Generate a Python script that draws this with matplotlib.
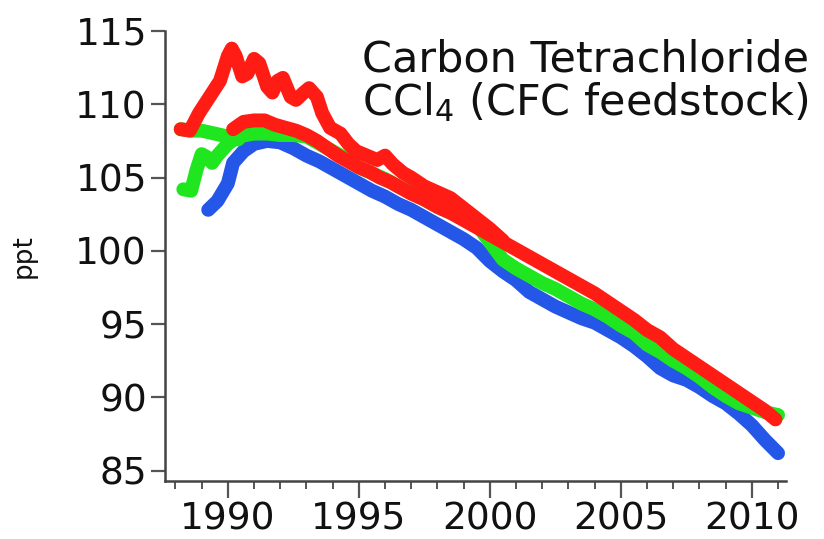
import numpy as np
import matplotlib
matplotlib.use("Agg")
import matplotlib.pyplot as plt
from matplotlib.ticker import MultipleLocator

# upper red record (early high values, runs along the top of the red band)
red_hi_yr = [1988.2, 1988.55, 1988.9, 1989.3, 1989.7, 1990.0, 1990.15, 1990.3, 1990.55, 1990.75,
             1991.0, 1991.2, 1991.5, 1991.7, 1991.9, 1992.1, 1992.4, 1992.6, 1992.9, 1993.1,
             1993.4, 1993.6, 1993.9, 1994.3, 1994.6, 1994.9, 1995.3, 1995.7, 1996.0, 1996.3,
             1996.7, 1997.0, 1997.5, 1998.0, 1998.5, 1999.0, 1999.5, 2000.0, 2000.5]
red_hi_val = [108.3, 108.2, 109.4, 110.5, 111.6, 113.3, 113.8, 113.3, 111.9, 112.1,
              113.1, 112.8, 111.2, 110.8, 111.6, 111.8, 110.5, 110.3, 110.8, 111.1,
              110.5, 109.4, 108.4, 108.0, 107.3, 106.8, 106.5, 106.2, 106.5, 105.9,
              105.3, 105.0, 104.4, 104.0, 103.6, 102.9, 102.2, 101.5, 100.7]

# main red record
red_yr = [1990.2, 1990.6, 1991.0, 1991.4, 1991.8, 1992.2, 1992.6, 1993.0, 1993.4, 1993.8,
          1994.2, 1994.6, 1995.0, 1995.4, 1995.8, 1996.2, 1996.6, 1997.0, 1997.5, 1998.0,
          1998.5, 1999.0, 1999.5, 2000.0, 2000.5, 2001.0, 2001.5, 2002.0, 2002.5, 2003.0,
          2003.5, 2004.0, 2004.5, 2005.0, 2005.5, 2006.0, 2006.5, 2007.0, 2007.5, 2008.0,
          2008.5, 2009.0, 2009.5, 2010.0, 2010.5, 2010.9]
red_val = [108.3, 108.8, 108.9, 108.9, 108.6, 108.4, 108.2, 107.9, 107.5, 107.0,
           106.5, 106.1, 105.7, 105.4, 105.0, 104.7, 104.3, 103.9, 103.5, 103.0,
           102.6, 102.1, 101.6, 101.1, 100.6, 100.1, 99.6, 99.1, 98.6, 98.1,
           97.6, 97.1, 96.5, 95.9, 95.3, 94.6, 94.1, 93.3, 92.7, 92.1,
           91.5, 90.9, 90.3, 89.7, 89.1, 88.5]

# short green record starting high
green_hi_yr = [1988.2, 1988.6, 1989.0, 1989.5, 1990.0, 1990.4]
green_hi_val = [108.3, 108.2, 108.2, 108.0, 107.8, 107.6]

# main green record
green_yr = [1988.3, 1988.6, 1988.8, 1989.0, 1989.2, 1989.4, 1989.6, 1990.0, 1990.4, 1991.0,
            1991.5, 1992.0, 1992.5, 1993.0, 1993.5, 1994.0, 1994.5, 1995.0, 1995.5, 1996.0,
            1996.5, 1997.0, 1997.5, 1998.0, 1998.5, 1999.0, 1999.5, 2000.0, 2000.5, 2001.0,
            2001.5, 2002.0, 2002.5, 2003.0, 2003.5, 2004.0, 2004.5, 2005.0, 2005.5, 2006.0,
            2006.5, 2007.0, 2007.5, 2008.0, 2008.5, 2009.0, 2009.5, 2010.0, 2010.5, 2011.0]
green_val = [104.2, 104.1, 105.5, 106.6, 106.4, 106.0, 106.5, 107.3, 107.8, 108.0,
             108.0, 107.9, 107.9, 107.8, 107.3, 106.8, 106.3, 105.7, 105.3, 104.9,
             104.4, 104.0, 103.5, 103.0, 102.6, 102.2, 101.8, 100.6, 99.4, 98.8,
             98.3, 97.8, 97.4, 96.9, 96.4, 96.0, 95.5, 94.9, 94.4, 93.6,
             93.1, 92.5, 92.0, 91.4, 90.7, 90.1, 89.6, 89.3, 89.0, 88.8]

# blue record
blue_yr = [1989.25, 1989.6, 1990.0, 1990.2, 1990.6, 1991.0, 1991.5, 1992.0, 1992.5, 1993.0,
           1993.5, 1994.0, 1994.5, 1995.0, 1995.5, 1996.0, 1996.5, 1997.0, 1997.5, 1998.0,
           1998.5, 1999.0, 1999.5, 2000.0, 2000.5, 2001.0, 2001.5, 2002.0, 2002.5, 2003.0,
           2003.5, 2004.0, 2004.5, 2005.0, 2005.5, 2006.0, 2006.5, 2007.0, 2007.5, 2008.0,
           2008.5, 2009.0, 2009.5, 2010.0, 2010.5, 2011.0]
blue_val = [102.8, 103.4, 104.6, 106.0, 106.8, 107.3, 107.5, 107.4, 107.0, 106.5,
            106.1, 105.6, 105.1, 104.6, 104.1, 103.7, 103.2, 102.8, 102.3, 101.8,
            101.3, 100.8, 100.2, 99.3, 98.6, 98.0, 97.2, 96.7, 96.2, 95.8,
            95.4, 95.1, 94.6, 94.1, 93.5, 92.8, 92.0, 91.5, 91.2, 90.7,
            90.1, 89.6, 88.9, 88.1, 87.1, 86.2]

year_ticks = [1990, 1995, 2000, 2005, 2010]
ppt_ticks = [85, 90, 95, 100, 105, 110, 115]

RED = "#ff1c14"
GREEN = "#1fe61f"
BLUE = "#2456e8"

fig = plt.figure(figsize=(8.24, 5.39), dpi=100)
ax = fig.add_axes([0.2002, 0.1076, 0.7536, 0.8349])

kw = dict(linewidth=10, solid_capstyle="round", solid_joinstyle="round")
ax.plot(blue_yr, blue_val, color=BLUE, zorder=2, **kw)
ax.plot(green_hi_yr, green_hi_val, color=GREEN, zorder=3, **kw)
ax.plot(green_yr, green_val, color=GREEN, zorder=3, **kw)
ax.plot(red_hi_yr, red_hi_val, color=RED, zorder=4, **kw)
ax.plot(red_yr, red_val, color=RED, zorder=4, **kw)

ax.set_xlim(1987.6, 2011.3)
ax.set_ylim(84.3, 115)
ax.set_xticks(year_ticks)
ax.set_yticks(ppt_ticks)
ax.xaxis.set_minor_locator(MultipleLocator(1))

for side in ["top", "right"]:
    ax.spines[side].set_visible(False)
for side in ["left", "bottom"]:
    ax.spines[side].set_color("#444444")
    ax.spines[side].set_linewidth(1.8)

ax.tick_params(axis="both", which="major", labelsize=27, color="#555555",
               width=1.6, length=10, labelcolor="#111111")
ax.tick_params(axis="x", which="major", length=12, pad=3)
ax.tick_params(axis="x", which="minor", length=6, width=1.4, color="#555555")
ax.tick_params(axis="y", which="major", pad=3)

ax.set_ylabel("ppt", fontsize=19, color="#111111", labelpad=28)

ax.text(0.317, 0.909, "Carbon Tetrachloride", transform=ax.transAxes,
        fontsize=31, color="#111111", va="baseline", ha="left")
ax.text(0.317, 0.813, "CCl$_4$ (CFC feedstock)", transform=ax.transAxes,
        fontsize=31, color="#111111", va="baseline", ha="left")

fig.savefig("out.png", dpi=100)
